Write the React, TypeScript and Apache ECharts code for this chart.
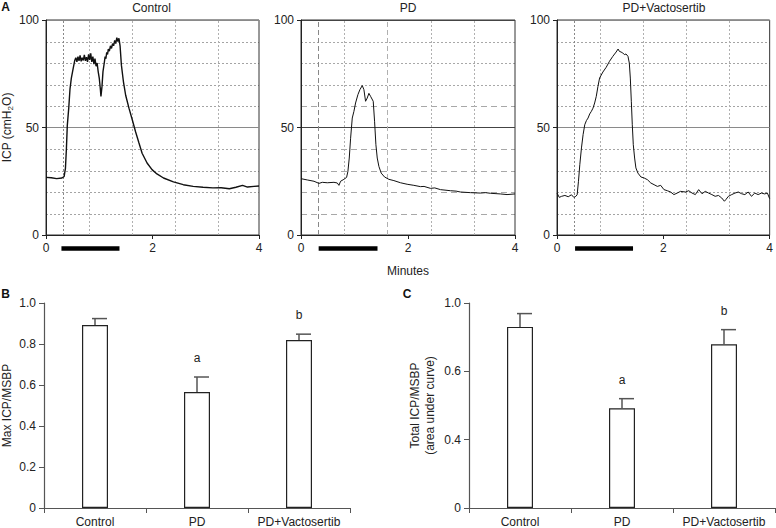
import React, { useEffect, useRef } from "react";
import * as echarts from "echarts";

const FONT = "'Liberation Sans', Arial, sans-serif";

// ---------- Panel A data (time in minutes, ICP in cmH2O) ----------
const panelTitles = ["Control", "PD", "PD+Vactosertib"];

const controlTrace: [number, number][] = [
  [0, 26.8], [0.1, 26.6], [0.2, 26.2], [0.3, 26.5], [0.34, 27.2], [0.365, 31], [0.383, 40], [0.4, 51],
  [0.427, 59], [0.451, 68], [0.476, 73], [0.507, 77], [0.538, 81], [0.56, 82.5], [0.58, 80.5], [0.6, 83],
  [0.62, 81], [0.64, 83.5], [0.66, 80.8], [0.68, 82.5], [0.7, 81.2], [0.72, 83.8], [0.74, 81], [0.76, 82.7],
  [0.78, 80.5], [0.8, 84], [0.82, 81.5], [0.84, 84.5], [0.86, 80.5], [0.88, 83], [0.9, 79.5], [0.92, 82],
  [0.94, 78.5], [0.96, 80], [0.98, 76], [1.0, 73], [1.02, 68], [1.032, 64.5], [1.051, 69], [1.07, 76],
  [1.094, 80], [1.11, 83], [1.125, 82], [1.14, 85], [1.156, 84], [1.17, 86.5], [1.19, 85.5], [1.21, 88],
  [1.23, 86.8], [1.25, 89], [1.27, 88], [1.29, 90.5], [1.31, 89], [1.33, 91.8], [1.35, 90], [1.37, 91.5],
  [1.391, 88], [1.416, 79], [1.453, 71.5], [1.496, 65], [1.558, 59], [1.62, 53.6], [1.682, 48], [1.743, 43],
  [1.805, 38], [1.898, 33.5], [1.991, 30.4], [2.083, 28.4], [2.207, 26.5], [2.393, 24.7], [2.578, 23.4],
  [2.764, 22.6], [2.949, 22.2], [3.135, 21.9], [3.289, 22], [3.444, 21.5], [3.567, 22.2], [3.691, 23.1],
  [3.784, 22.3], [3.907, 22.6], [4.0, 22.8],
];

const pdTrace: [number, number][] = [
  [0, 26.2], [0.118, 25.6], [0.243, 25], [0.336, 24], [0.398, 24.5], [0.491, 24.3], [0.616, 24.5],
  [0.678, 24.2], [0.709, 23.1], [0.74, 25], [0.802, 25.9], [0.852, 26.8], [0.877, 29.6], [0.902, 35.8],
  [0.927, 45], [0.958, 54.4], [0.989, 57.5], [1.02, 61.4], [1.064, 65.3], [1.101, 67.6], [1.145, 69.5],
  [1.176, 67.6], [1.207, 62.2], [1.238, 63.7], [1.269, 65.9], [1.3, 64.5], [1.35, 62.2], [1.375, 52.9],
  [1.4, 42], [1.425, 35.8], [1.456, 31.9], [1.499, 28.8], [1.561, 27], [1.642, 25.9], [1.736, 25.3],
  [1.86, 24.3], [1.984, 23.6], [2.109, 23.1], [2.233, 22.5], [2.3, 22.6], [2.42, 21.7], [2.5, 21.9],
  [2.607, 21.1], [2.793, 20.6], [2.9, 20.4], [2.98, 20], [3.166, 19.7], [3.353, 19.5], [3.45, 19.7],
  [3.54, 19.4], [3.726, 19.1], [3.851, 18.8], [4.0, 19.1],
];

const vactoTrace: [number, number][] = [
  [0, 19.5], [0.043, 17.5], [0.087, 18], [0.149, 18.4], [0.211, 17.8], [0.273, 18.7], [0.317, 17.5],
  [0.354, 18], [0.379, 18.7], [0.404, 25], [0.429, 32.7], [0.46, 40.5], [0.491, 46.7], [0.522, 51.3],
  [0.553, 53.2], [0.584, 54.4], [0.615, 56.3], [0.646, 57.5], [0.677, 59], [0.708, 61.4], [0.739, 64.5],
  [0.77, 69.1], [0.801, 73], [0.863, 75.8], [0.925, 78], [0.988, 80.8], [1.05, 83.1], [1.112, 85.1],
  [1.149, 86.5], [1.174, 85.4], [1.205, 85.1], [1.236, 84.7], [1.267, 83.9], [1.298, 84.2], [1.335, 83.1],
  [1.36, 80], [1.379, 73], [1.398, 62.2], [1.416, 51.3], [1.435, 42], [1.46, 35.8], [1.484, 31.2],
  [1.522, 28.8], [1.578, 27], [1.64, 26.5], [1.702, 25.7], [1.764, 24.2], [1.826, 23.4], [1.888, 22.6],
  [1.95, 23.1], [2.012, 21.1], [2.075, 20.6], [2.137, 20], [2.199, 18.8], [2.261, 19.5], [2.323, 20.3],
  [2.416, 20], [2.478, 20.6], [2.54, 19.5], [2.602, 18.8], [2.665, 21.1], [2.727, 19.2], [2.789, 20.3],
  [2.851, 19.5], [2.913, 18.8], [2.975, 18], [3.037, 18.4], [3.099, 17.2], [3.149, 15.7], [3.174, 16.4],
  [3.224, 18], [3.286, 18.8], [3.348, 19.5], [3.41, 20], [3.472, 19.2], [3.534, 18.8], [3.596, 20],
  [3.658, 18], [3.72, 19.5], [3.783, 18.8], [3.845, 19.5], [3.907, 19.1], [3.957, 19.5], [4.0, 16.9],
];

const traces = [controlTrace, pdTrace, vactoTrace];
// stimulation period (black bar under the x axis), minutes
const stimStart = [0.29, 0.33, 0.34];
const stimEnd = [1.38, 1.43, 1.43];
// recorder chart grid lines: vertical (minutes) and horizontal (cmH2O)
const chartGridTimes = [0.33, 0.81, 1.62, 2.43, 3.24];
const chartGridLevels = [10, 20, 30, 40, 60, 70, 80, 90];

// ---------- Panel B / C data ----------
const groups = ["Control", "PD", "PD+Vactosertib"];
const maxMean = [0.893, 0.566, 0.819];
const maxErr = [0.031, 0.073, 0.029];
const totalMean = [0.86, 0.492, 0.758];
const totalErr = [0.078, 0.028, 0.086];
const sigLetters = ["", "a", "b"];
const cTickValues = [0, 0.4, 0.6, 1.0];
const cTickLabels = ["0", "0.4", "0.6", "1.0"];

// panel C's axis labels are evenly spaced: map a value onto tick index units
function toCAxis(v: number): number {
  for (let i = 0; i < cTickValues.length - 1; i++) {
    const a = cTickValues[i];
    const b = cTickValues[i + 1];
    if (v <= b) return i + (v - a) / (b - a);
  }
  return cTickValues.length - 1;
}

const topGrids = [
  { left: 44, top: 20, width: 215, height: 215 },
  { left: 301, top: 20, width: 214, height: 215 },
  { left: 557, top: 20, width: 214, height: 215 },
];

export default function App() {
  const ref = useRef<HTMLDivElement>(null);

  useEffect(() => {
    document.body.style.margin = "0";
    if (!ref.current) return;
    const chart = echarts.init(ref.current, null, { renderer: "svg" });

    const txt = { color: "#222", fontFamily: FONT, fontSize: 12 };

    const grids: any[] = topGrids.map((g) => ({
      ...g,
      show: true,
      borderColor: "#333",
      borderWidth: 1,
      containLabel: false,
    }));
    grids.push({ left: 43, top: 303, width: 307, height: 206 });
    grids.push({ left: 469, top: 303, width: 306, height: 206 });

    const xAxes: any[] = [];
    const yAxes: any[] = [];
    const series: any[] = [];

    for (let i = 0; i < 3; i++) {
      xAxes.push({
        type: "value",
        gridIndex: i,
        min: 0,
        max: 4,
        interval: 2,
        axisLine: { lineStyle: { color: "#222", width: 1 } },
        axisTick: { show: true, length: 4, lineStyle: { color: "#222" } },
        axisLabel: { ...txt, margin: 7 },
        splitLine: { show: false },
        name: i === 1 ? "Minutes" : "",
        nameLocation: "middle",
        nameGap: 30,
        nameTextStyle: { ...txt },
      });
      yAxes.push({
        type: "value",
        gridIndex: i,
        min: 0,
        max: 100,
        interval: 50,
        axisLine: { show: true, lineStyle: { color: "#222", width: 1 } },
        axisTick: { show: true, length: 4, lineStyle: { color: "#222" } },
        axisLabel: { ...txt, margin: 7 },
        splitLine: { show: true, lineStyle: { color: i === 1 ? "#444" : "#8a8a8a", width: 1 } },
        name: i === 0 ? "ICP (cmH{sub|2}O)" : "",
        nameLocation: "middle",
        nameGap: 32,
        nameTextStyle: {
          ...txt,
          rich: { sub: { fontSize: 8, verticalAlign: "bottom", fontFamily: FONT, color: "#222", padding: [6, 0, 0, 0] } },
        },
      });
      const vLines = chartGridTimes.map((t, k) => ({
        xAxis: t,
        lineStyle: {
          color: k === 0 ? "#888" : "#b0b0b0",
          type: i === 1 && (k === 0 || k === 2) ? [5, 3] : [2, 2],
        },
      }));
      series.push({
        type: "line",
        xAxisIndex: i,
        yAxisIndex: i,
        data: traces[i],
        showSymbol: false,
        symbol: "none",
        lineStyle: { color: "#111", width: i === 0 ? 1.4 : 1 },
        z: 5,
        markLine: {
          silent: true,
          symbol: ["none", "none"],
          label: { show: false },
          lineStyle: { color: "#a8a8a8", width: 1, type: [2, 2] },
          data: vLines,
          z: 1,
        },
      });
      series.push({
        type: "line",
        xAxisIndex: i,
        yAxisIndex: i,
        data: [
          [stimStart[i], -6.3],
          [stimEnd[i], -6.3],
        ],
        clip: false,
        showSymbol: false,
        symbol: "none",
        lineStyle: { color: "#000", width: 4.5, cap: "butt" },
        z: 6,
      });
    }

    // Panel B & C axes
    for (let j = 0; j < 2; j++) {
      const gi = 3 + j;
      xAxes.push({
        type: "category",
        gridIndex: gi,
        data: groups,
        boundaryGap: true,
        axisLine: { lineStyle: { color: "#555", width: 1.2 } },
        axisTick: { show: true, length: 5, alignWithLabel: false, interval: 0, lineStyle: { color: "#555" } },
        axisLabel: { ...txt, margin: 8, interval: 0 },
      });
      if (j === 0) {
        yAxes.push({
          type: "value",
          gridIndex: gi,
          min: 0,
          max: 1,
          interval: 0.2,
          axisLine: { show: true, lineStyle: { color: "#555", width: 1.2 } },
          axisTick: { show: true, length: 5, lineStyle: { color: "#555" } },
          axisLabel: { ...txt, margin: 8, formatter: (v: number) => (v === 0 ? "0" : v.toFixed(1)) },
          splitLine: { show: false },
          name: "Max ICP/MSBP",
          nameLocation: "middle",
          nameGap: 31,
          nameTextStyle: { ...txt },
        });
      } else {
        yAxes.push({
          type: "value",
          gridIndex: gi,
          min: 0,
          max: cTickLabels.length - 1,
          interval: 1,
          axisLine: { show: true, lineStyle: { color: "#555", width: 1.2 } },
          axisTick: { show: true, length: 5, lineStyle: { color: "#555" } },
          axisLabel: { ...txt, margin: 8, formatter: (v: number) => cTickLabels[Math.round(v)] ?? "" },
          splitLine: { show: false },
          name: "Total ICP/MSBP\n(area under curve)",
          nameLocation: "middle",
          nameGap: 32,
          nameTextStyle: { ...txt, lineHeight: 15 },
        });
      }
      const means = j === 0 ? maxMean : totalMean.map(toCAxis);
      const tops = j === 0 ? maxMean.map((m, k) => m + maxErr[k]) : totalMean.map((m, k) => toCAxis(m + totalErr[k]));
      series.push({
        type: "bar",
        xAxisIndex: 3 + j,
        yAxisIndex: 3 + j,
        data: means,
        barWidth: 26,
        itemStyle: { color: "#fff", borderColor: "#222", borderWidth: 1.2 },
        z: 3,
      });
      series.push({
        type: "custom",
        xAxisIndex: 3 + j,
        yAxisIndex: 3 + j,
        data: groups.map((_, k) => [k, means[k], tops[k], k]),
        z: 4,
        renderItem: (params: any, api: any) => {
          const k = api.value(3);
          const p0 = api.coord([api.value(0), api.value(1)]);
          const p1 = api.coord([api.value(0), api.value(2)]);
          const st = { stroke: "#555", lineWidth: 1.5 };
          const children: any[] = [
            { type: "line", shape: { x1: p0[0], y1: p0[1], x2: p1[0], y2: p1[1] }, style: st },
            { type: "line", shape: { x1: p1[0] - 3, y1: p1[1], x2: p1[0] + 12, y2: p1[1] }, style: st },
          ];
          const letter = sigLetters[k];
          if (letter) {
            children.push({
              type: "text",
              style: {
                text: letter,
                x: p1[0],
                y: p1[1] - 19,
                align: "center",
                verticalAlign: "middle",
                textAlign: "center",
                textVerticalAlign: "middle",
                font: `12px ${FONT}`,
                fill: "#222",
              },
            });
          }
          return { type: "group", children };
        },
      });
    }

    const graphic: any[] = [];
    const panelLetters = [
      { t: "A", x: 5.5, y: 7 },
      { t: "B", x: 5.5, y: 294 },
      { t: "C", x: 407, y: 294 },
    ];
    panelLetters.forEach((l) =>
      graphic.push({
        type: "text",
        x: l.x,
        y: l.y,
        style: {
          text: l.t,
          font: `bold 12px ${FONT}`,
          fill: "#111",
          align: "center",
          verticalAlign: "middle",
          textAlign: "center",
          textVerticalAlign: "middle",
        },
      })
    );
    panelTitles.forEach((t, i) =>
      graphic.push({
        type: "text",
        x: topGrids[i].left + topGrids[i].width / 2,
        y: 8,
        style: {
          text: t,
          font: `12px ${FONT}`,
          fill: "#222",
          align: "center",
          verticalAlign: "middle",
          textAlign: "center",
          textVerticalAlign: "middle",
        },
      })
    );

    chart.setOption({
      animation: false,
      backgroundColor: "#fff",
      grid: grids,
      xAxis: xAxes,
      yAxis: yAxes,
      series,
      graphic,
    });

    // horizontal recorder grid lines, placed through each panel's own scales
    const gridLines: any[] = [];
    for (let i = 0; i < 3; i++) {
      chartGridLevels.forEach((v) => {
        const a = chart.convertToPixel({ xAxisIndex: i, yAxisIndex: i } as any, [0, v]) as number[];
        const b = chart.convertToPixel({ xAxisIndex: i, yAxisIndex: i } as any, [4, v]) as number[];
        if (!a || !b) return;
        const y = Math.round(a[1]) + 0.5;
        gridLines.push({
          type: "line",
          silent: true,
          z: -1,
          shape: { x1: a[0], y1: y, x2: b[0], y2: y },
          style: {
            stroke: i === 1 ? "#a8a8a8" : "#a4a4a4",
            lineWidth: 1,
            lineDash: i === 1 && v <= 60 ? [6, 4] : [2, 2],
          },
        });
      });
    }
    chart.setOption({ graphic: [...graphic, ...gridLines] });

    return () => chart.dispose();
  }, []);

  return <div ref={ref} style={{ width: 776, height: 528 }} />;
}
